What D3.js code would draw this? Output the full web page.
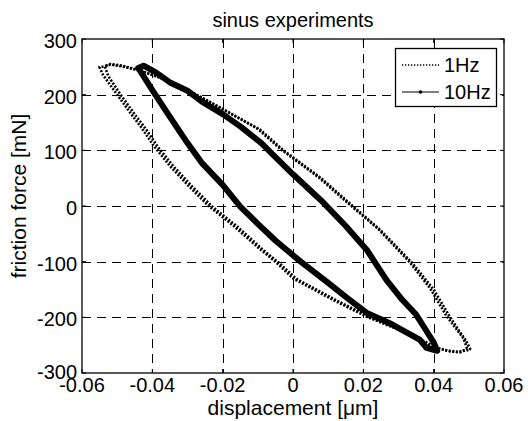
<html>
<head>
<script src="https://cdn.jsdelivr.net/npm/d3@7"></script>
<style>
    body { margin: 0; padding: 0; background-color: white; }
    svg { display: block; }
</style>
</head>
<body>
<svg width="528" height="421"></svg>
<script>
    // axis ticks
    const xTicks = [-0.06, -0.04, -0.02, 0, 0.02, 0.04, 0.06];
    const yTicks = [-300, -200, -100, 0, 100, 200, 300];

    // 1Hz, first cycle (displacement um, force mN)
    const hz1_x = [0.0505, 0.049, 0.047, 0.0446, 0.040, 0.034, 0.0248, 0.017, 0.008, -0.0027, -0.0093, -0.0187, -0.026, -0.034, -0.043, -0.048, -0.0518, -0.055,
                   -0.054, -0.050, -0.046, -0.043, -0.0395, -0.035, -0.030, -0.024, -0.017, -0.0093, -0.005, 0.0, 0.0115, 0.021, 0.030, 0.036, 0.040, 0.044, 0.047, 0.0505];
    const hz1_y = [-258, -240, -222, -199, -150, -103, -43, 0, 50, 100, 137, 170, 195, 222, 242, 250, 254, 249,
                   235, 200, 165, 140, 107, 72, 38, 0, -35, -78, -100, -130, -169, -199, -222, -240, -253, -260, -262, -258];
    // 1Hz, second cycle
    const hz1b_x = [0.0495, 0.0485, 0.0462, 0.0436, 0.039, 0.0332, 0.0242, 0.0162, 0.0072, -0.0035, -0.0101, -0.0195, -0.0268, -0.0348, -0.0438, -0.0485, -0.052, -0.0535,
                    -0.0525, -0.0488, -0.0448, -0.0418, -0.0383, -0.0338, -0.0288, -0.0228, -0.0158, -0.0083, -0.004, 0.001, 0.0125, 0.022, 0.031, 0.037, 0.041, 0.0445, 0.0475, 0.0495];
    const hz1b_y = [-256, -238, -219, -197, -148, -101, -41, 2, 52, 102, 139, 172, 197, 224, 244, 252, 255, 251,
                    233, 198, 163, 138, 105, 70, 36, -2, -37, -80, -102, -131, -170, -200, -224, -242, -255, -261, -263, -256];

    // 10Hz
    const hz10_x = [-0.044, -0.0425, -0.039, -0.035, -0.030, -0.026, -0.020, -0.015, -0.009, -0.005, 0.0, 0.008, 0.015, 0.021, 0.0266, 0.031, 0.035, 0.038, 0.040, 0.041,
                    0.038, 0.036, 0.028, 0.021, 0.016, 0.010, 0.002, -0.005, -0.010, -0.015, -0.020, -0.026, -0.030, -0.035, -0.040, -0.044];
    const hz10_y = [248, 252, 240, 222, 207, 188, 165, 143, 113, 88, 57, 10, -36, -79, -133, -168, -195, -225, -245, -260,
                    -255, -240, -212, -192, -168, -138, -99, -62, -32, -1, 38, 78, 113, 160, 208, 248];

    const font = "'Liberation Sans', Arial, Helvetica, sans-serif";
    const svg = d3.select("svg");

    const plot = { left: 82, right: 504, top: 39, bottom: 373 };

    const x = d3.scaleLinear().domain([-0.06, 0.06]).range([plot.left, plot.right]);
    const y = d3.scaleLinear().domain([-300, 300]).range([plot.bottom, plot.top]);

    // grid
    const grid = svg.append("g");
    grid.selectAll(".gx")
        .data(xTicks.slice(1, -1))
        .enter().append("line")
        .attr("x1", d => Math.round(x(d)) + 0.5)
        .attr("x2", d => Math.round(x(d)) + 0.5)
        .attr("y1", plot.top)
        .attr("y2", plot.bottom)
        .attr("stroke", "black")
        .attr("stroke-width", 1)
        .attr("stroke-dasharray", "9,6");
    grid.selectAll(".gy")
        .data(yTicks.slice(1, -1))
        .enter().append("line")
        .attr("x1", plot.left)
        .attr("x2", plot.right)
        .attr("y1", d => Math.round(y(d)) + 0.5)
        .attr("y2", d => Math.round(y(d)) + 0.5)
        .attr("stroke", "black")
        .attr("stroke-width", 1)
        .attr("stroke-dasharray", "9,6");

    // data
    const line = d3.line()
        .x(d => x(d[0]))
        .y(d => y(d[1]));

    function zipXY(xs, ys) {
        return xs.map((v, i) => [v, ys[i]]);
    }

    [[hz1_x, hz1_y], [hz1b_x, hz1b_y]].forEach(s => {
        svg.append("path")
            .datum(zipXY(s[0], s[1]))
            .attr("d", line)
            .attr("fill", "none")
            .attr("stroke", "black")
            .attr("stroke-width", 2.6)
            .attr("stroke-dasharray", "2,1.6");
    });

    svg.append("path")
        .datum(zipXY(hz10_x, hz10_y))
        .attr("d", line)
        .attr("fill", "none")
        .attr("stroke", "black")
        .attr("stroke-width", 6)
        .attr("stroke-linejoin", "round")
        .attr("stroke-linecap", "round");

    // axis box and ticks
    svg.append("rect")
        .attr("x", plot.left)
        .attr("y", plot.top)
        .attr("width", plot.right - plot.left)
        .attr("height", plot.bottom - plot.top)
        .attr("fill", "none")
        .attr("stroke", "black")
        .attr("stroke-width", 1.3);

    const tickLen = 4;
    xTicks.forEach(d => {
        svg.append("line").attr("x1", x(d)).attr("x2", x(d))
            .attr("y1", plot.bottom).attr("y2", plot.bottom - tickLen)
            .attr("stroke", "black");
        svg.append("line").attr("x1", x(d)).attr("x2", x(d))
            .attr("y1", plot.top).attr("y2", plot.top + tickLen)
            .attr("stroke", "black");
    });
    yTicks.forEach(d => {
        svg.append("line").attr("x1", plot.left).attr("x2", plot.left + tickLen)
            .attr("y1", y(d)).attr("y2", y(d))
            .attr("stroke", "black");
        svg.append("line").attr("x1", plot.right).attr("x2", plot.right - tickLen)
            .attr("y1", y(d)).attr("y2", y(d))
            .attr("stroke", "black");
    });

    // tick labels
    svg.selectAll(".xlab")
        .data(xTicks)
        .enter().append("text")
        .attr("x", d => x(d))
        .attr("y", 392)
        .attr("text-anchor", "middle")
        .attr("font-family", font)
        .attr("font-size", "20px")
        .text(d => String(d));

    svg.selectAll(".ylab")
        .data(yTicks)
        .enter().append("text")
        .attr("x", 77)
        // the bottom label sits a little higher, as in the original
        .attr("y", d => y(d) + (d === -300 ? 6 : 9))
        .attr("text-anchor", "end")
        .attr("font-family", font)
        .attr("font-size", "20px")
        .text(d => String(d));

    // title and axis labels
    svg.append("text")
        .attr("x", (plot.left + plot.right) / 2)
        .attr("y", 27)
        .attr("text-anchor", "middle")
        .attr("font-family", font)
        .attr("font-size", "20px")
        .text("sinus experiments");

    svg.append("text")
        .attr("x", (plot.left + plot.right) / 2)
        .attr("y", 415)
        .attr("text-anchor", "middle")
        .attr("font-family", font)
        .attr("font-size", "21px")
        .text("displacement [\u03bcm]");

    svg.append("text")
        .attr("transform", `translate(26, ${(plot.top + plot.bottom) / 2 - 10}) rotate(-90)`)
        .attr("text-anchor", "middle")
        .attr("font-family", font)
        .attr("font-size", "21px")
        .text("friction force [mN]");

    // legend
    const legend = svg.append("g");
    legend.append("rect")
        .attr("x", 395.5)
        .attr("y", 48.5)
        .attr("width", 101)
        .attr("height", 58)
        .attr("fill", "white")
        .attr("stroke", "black")
        .attr("stroke-width", 1.3);

    legend.append("line")
        .attr("x1", 402).attr("x2", 439)
        .attr("y1", 65).attr("y2", 65)
        .attr("stroke", "black")
        .attr("stroke-width", 1.3)
        .attr("stroke-dasharray", "1.3,1.7");
    legend.append("text")
        .attr("x", 444).attr("y", 72)
        .attr("font-family", font)
        .attr("font-size", "20px")
        .text("1Hz");

    legend.append("line")
        .attr("x1", 402).attr("x2", 439)
        .attr("y1", 92).attr("y2", 92)
        .attr("stroke", "black")
        .attr("stroke-width", 1);
    legend.append("circle")
        .attr("cx", 420.5).attr("cy", 92)
        .attr("r", 1.8)
        .attr("fill", "black");
    legend.append("text")
        .attr("x", 444).attr("y", 99)
        .attr("font-family", font)
        .attr("font-size", "20px")
        .text("10Hz");
</script>
</body>
</html>
